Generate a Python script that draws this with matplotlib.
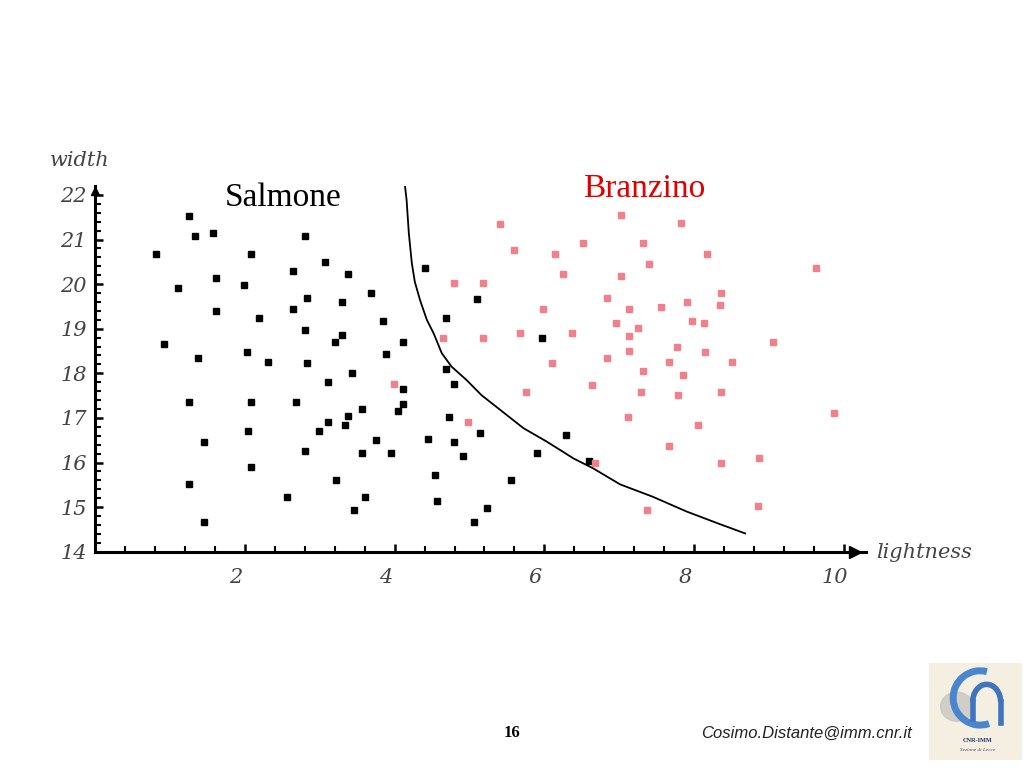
import matplotlib
matplotlib.use("Agg")
import matplotlib.pyplot as plt
import matplotlib.transforms as mtransforms
from matplotlib.patches import Arc, Ellipse

# lightness / width of the two fish classes
salmone_x = [1.26, 1.34, 1.58, 2.80, 0.81, 2.08, 3.07, 2.65, 3.38, 1.62,
             1.11, 1.99, 2.83, 3.30, 1.62, 2.64, 2.19, 2.80, 3.30, 3.21,
             0.92, 2.03, 1.38, 2.31, 2.83, 3.43, 3.68, 4.41, 5.10, 3.84,
             4.69, 4.11, 3.88, 5.97, 4.69, 3.11, 1.25, 2.08, 2.69, 3.38,
             3.11, 3.34, 2.04, 2.99, 1.46, 2.80, 2.08, 3.22, 1.25, 2.57,
             3.46, 1.46, 4.11, 4.11, 4.04, 4.79, 3.57, 4.73, 3.75, 4.45,
             4.79, 5.14, 3.57, 3.95, 4.91, 5.90, 6.29, 6.60, 4.54, 5.56,
             3.60, 4.56, 5.23, 5.06]
salmone_y = [21.53, 21.08, 21.14, 21.08, 20.67, 20.67, 20.49, 20.29, 20.23, 20.13,
             19.92, 19.98, 19.69, 19.59, 19.40, 19.44, 19.23, 18.96, 18.86, 18.70,
             18.65, 18.48, 18.34, 18.26, 18.22, 18.00, 19.80, 20.35, 19.66, 19.18,
             19.24, 18.70, 18.43, 18.80, 18.10, 17.80, 17.35, 17.35, 17.35, 17.05,
             16.90, 16.85, 16.71, 16.71, 16.47, 16.26, 15.91, 15.61, 15.52, 15.23,
             14.93, 14.67, 17.65, 17.31, 17.15, 17.75, 17.20, 17.01, 16.50, 16.52,
             16.47, 16.66, 16.22, 16.21, 16.15, 16.22, 16.62, 16.03, 15.73, 15.61,
             15.23, 15.14, 14.98, 14.67]

branzino_x = [5.41, 7.02, 7.83, 6.51, 7.32, 5.59, 6.14, 8.17, 7.40, 9.63,
              6.25, 7.02, 4.79, 5.18, 6.83, 8.36, 7.90, 8.34, 5.98, 7.13,
              7.56, 6.95, 7.97, 8.13, 7.25, 4.64, 5.18, 5.68, 6.37, 7.13,
              9.05, 7.77, 7.13, 8.14, 6.83, 6.10, 7.66, 8.51, 7.32, 7.85,
              3.99, 5.75, 6.64, 7.29, 7.79, 8.36, 7.12, 8.05, 9.87, 4.98,
              7.66, 8.36, 8.87, 6.68, 7.37, 8.85]
branzino_y = [21.35, 21.55, 21.36, 20.93, 20.92, 20.76, 20.67, 20.68, 20.44, 20.35,
              20.23, 20.18, 20.03, 20.03, 19.69, 19.79, 19.60, 19.53, 19.44, 19.44,
              19.49, 19.13, 19.18, 19.12, 19.01, 18.80, 18.80, 18.91, 18.90, 18.84,
              18.70, 18.60, 18.50, 18.48, 18.34, 18.22, 18.25, 18.26, 18.05, 17.96,
              17.76, 17.58, 17.74, 17.58, 17.52, 17.58, 17.01, 16.85, 17.10, 16.90,
              16.36, 15.98, 16.10, 15.98, 14.93, 15.03]

# decision boundary
boundary_x = [4.14, 4.16, 4.19, 4.23, 4.27, 4.34, 4.43, 4.52, 4.63, 4.76, 4.96,
              5.16, 5.41, 5.72, 6.03, 6.39, 6.65, 7.01, 7.45, 7.90, 8.34, 8.68]
boundary_y = [22.18, 21.89, 21.14, 20.47, 20.05, 19.64, 19.20, 18.90, 18.45, 18.15, 17.85,
              17.51, 17.18, 16.77, 16.47, 16.09, 15.87, 15.51, 15.23, 14.90, 14.62, 14.41]

x_ticks = [2, 4, 6, 8, 10]
y_ticks = [14, 15, 16, 17, 18, 19, 20, 21, 22]

fig = plt.figure(figsize=(10.24, 7.68), dpi=100)
W, H = 1024, 768
ax = fig.add_axes([95 / W, (H - 551.7) / H, 10.3 * 74.9 / W, 8.2 * 44.6 / H])
ax.set_xlim(0, 10.3)
ax.set_ylim(14, 22.2)

ax.plot(boundary_x, boundary_y, color='black', lw=1.3, zorder=2)
ax.plot(salmone_x, salmone_y, 's', color='black', ms=4, zorder=3)
ax.plot(branzino_x, branzino_y, 's', color='#f2808a', ms=4, zorder=4)

for s in ['top', 'right']:
    ax.spines[s].set_visible(False)
for s in ['left', 'bottom']:
    ax.spines[s].set_linewidth(2.2)

# axis arrows
ax.plot(0.985, 0, '>', color='black', ms=9, transform=ax.transAxes, clip_on=False)
ax.plot(0, 0.985, '^', color='black', ms=6, transform=ax.transAxes, clip_on=False)

ax.set_xticks(x_ticks)
ax.set_yticks(y_ticks)
ax.set_xticks([i * 0.4 for i in range(1, 26)], minor=True)
ax.set_yticks([14 + i * 0.2 for i in range(1, 41)], minor=True)
ax.tick_params(which='major', direction='in', length=6, width=1.8)
ax.tick_params(which='minor', direction='in', length=4, width=1.5)
ax.tick_params(axis='x', pad=12)
ax.tick_params(axis='y', pad=6)

tick_font = dict(family='DejaVu Serif', style='italic', size=15, color='#444444')
ax.set_xticklabels([str(t) for t in x_ticks], fontdict=tick_font)
ax.set_yticklabels([str(t) for t in y_ticks], fontdict=tick_font)
shift = mtransforms.ScaledTranslation(-9 / 100, 0, fig.dpi_scale_trans)
for lab in ax.get_xticklabels():
    lab.set_transform(lab.get_transform() + shift)

fig.text(80 / W, 1 - 160 / H, 'width', ha='center', va='center', **tick_font)
fig.text(876 / W, 1 - 552 / H, 'lightness', ha='left', va='center', **tick_font)

ax.text(2.51, 21.93, 'Salmone', ha='center', va='center',
        family='Liberation Serif', size=24, color='black')
ax.text(7.33, 22.13, 'Branzino', ha='center', va='center',
        family='Liberation Serif', size=24, color='#e00000', clip_on=False)

# footer
fig.text(512 / W, 1 - 733 / H, '16', ha='center', va='center',
         family='Liberation Serif', weight='bold', size=12)
fig.text(912 / W, 1 - 733 / H, 'Cosimo.Distante@imm.cnr.it', ha='right', va='center',
         family='Liberation Sans', style='italic', size=12, color='#222222')

# logo
lg = fig.add_axes([929 / W, 8 / H, 93 / W, 97 / H])
lg.set_xlim(0, 1)
lg.set_ylim(0, 1)
lg.set_facecolor('#f4efe0')
for s in lg.spines.values():
    s.set_visible(False)
lg.set_xticks([])
lg.set_yticks([])
lg.add_patch(Ellipse((0.3, 0.55), 0.35, 0.3, color='#c9c6c0', alpha=0.8))
lg.add_patch(Arc((0.55, 0.64), 0.58, 0.56, theta1=75, theta2=290, lw=5, color='#4a86d0'))
lg.add_patch(Arc((0.62, 0.6), 0.3, 0.36, theta1=0, theta2=180, lw=4, color='#3f74c0'))
lg.plot([0.47, 0.47], [0.42, 0.6], color='#3f74c0', lw=4)
lg.plot([0.77, 0.77], [0.38, 0.6], color='#3f74c0', lw=4)
lg.text(0.52, 0.2, 'CNR-IMM', ha='center', va='center', family='Liberation Serif',
        size=4.5, weight='bold', color='#1f2f6e')
lg.text(0.52, 0.1, 'Sezione di Lecce', ha='center', va='center', family='Liberation Serif',
        size=3.8, style='italic', color='#3a4a7e')

fig.savefig('out.png', dpi=100)
